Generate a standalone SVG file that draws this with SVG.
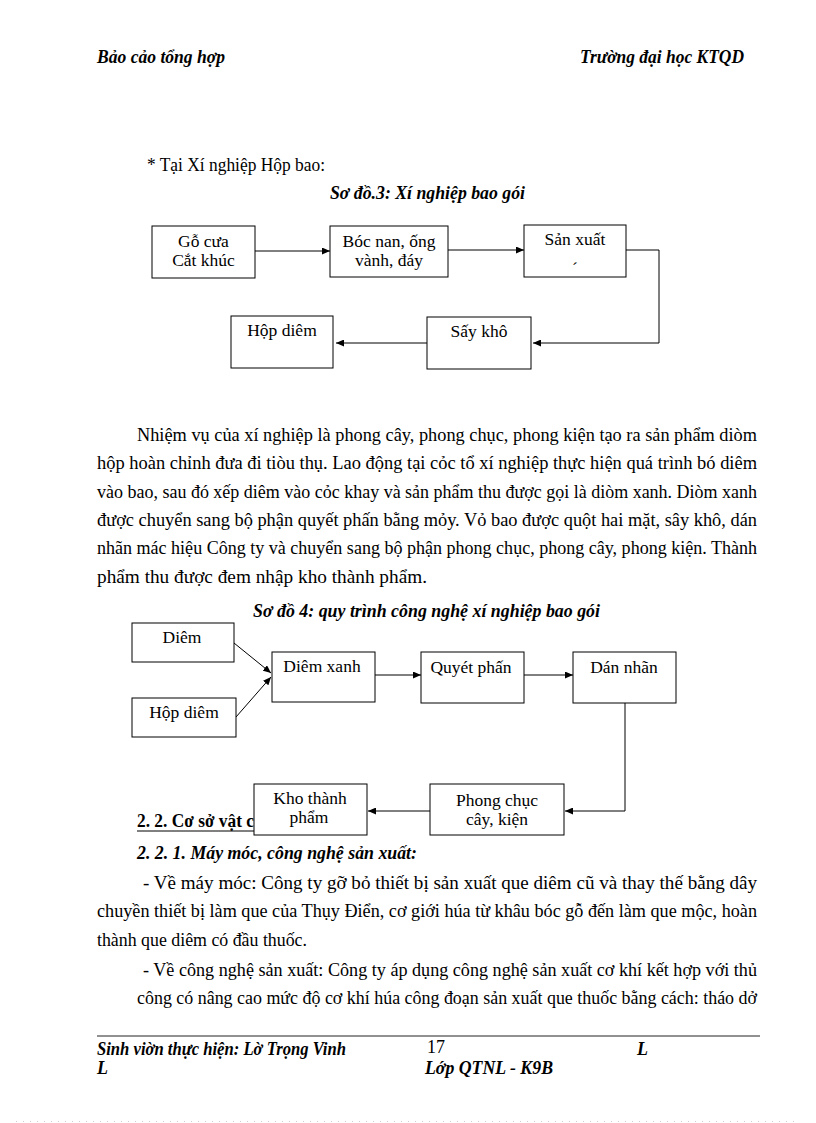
<svg xmlns="http://www.w3.org/2000/svg" width="816" height="1123" viewBox="0 0 816 1123">
<style>
.t{font-family:"Liberation Serif","Times New Roman",serif;font-size:18px;fill:#000}
.bi{font-weight:bold;font-style:italic}
.b{font-weight:bold}
.lbl{font-family:"Liberation Serif","Times New Roman",serif;font-size:17.5px;fill:#000;text-anchor:middle}
.box{fill:#fff;stroke:#000;stroke-width:1}
.conn{fill:none;stroke:#000;stroke-width:1;marker-end:url(#ah)}
</style>
<defs>
<marker id="ah" markerWidth="8" markerHeight="7" refX="8" refY="3.5" orient="auto" markerUnits="userSpaceOnUse"><path d="M0,0 L8,3.5 L0,7 z" fill="#000"/></marker>
<clipPath id="hclip"><rect x="0" y="800" width="254" height="40"/></clipPath>
</defs>
<rect width="816" height="1123" fill="#fff"/>

<g id="header">
<text class="t bi" x="97" y="63" font-size="16" textLength="128" lengthAdjust="spacingAndGlyphs">Bảo cảo tổng hợp</text>
<text class="t bi" x="580" y="63" font-size="16" textLength="164" lengthAdjust="spacingAndGlyphs">Trường đại học  KTQD</text>
</g>

<g id="intro">
<text class="t" x="147" y="171" textLength="178" lengthAdjust="spacingAndGlyphs">* Tại Xí nghiệp Hộp bao:</text>
<text class="t bi" x="330" y="199" font-size="16.5" textLength="195" lengthAdjust="spacingAndGlyphs">Sơ đồ.3: Xí nghiệp bao gói</text>
</g>

<g id="connectors1">
<path class="conn" d="M255,251 H330"/>
<path class="conn" d="M448,250 H524"/>
<path class="conn" d="M626,250 H659 V343 H533"/>
<path class="conn" d="M427,343 H336"/>
</g>

<g id="node-go-cua">
<rect class="box" x="152" y="226" width="103" height="52"/>
<text class="lbl" x="203.5" y="247">Gỗ cưa</text>
<text class="lbl" x="203.5" y="266">Cắt khúc</text>
</g>
<g id="node-boc-nan">
<rect class="box" x="330" y="226" width="118" height="51"/>
<text class="lbl" x="389" y="247">Bóc nan, ống</text>
<text class="lbl" x="389" y="266">vành,  đáy</text>
</g>
<g id="node-san-xuat">
<rect class="box" x="524" y="225" width="102" height="52"/>
<text class="lbl" x="575" y="245">Sản xuất</text>
<text class="lbl" x="575" y="274" font-size="11">ˊ</text>
</g>
<g id="node-say-kho">
<rect class="box" x="427" y="317" width="104" height="52"/>
<text class="lbl" x="479" y="337">Sấy khô</text>
</g>
<g id="node-hop-diem-1">
<rect class="box" x="231" y="316" width="102" height="52"/>
<text class="lbl" x="282" y="336">Hộp diêm</text>
</g>

<g id="paragraph">
<text class="t" x="137" y="441" textLength="620" lengthAdjust="spacingAndGlyphs">Nhiệm vụ  của xí nghiệp là phong  cây, phong chục, phong kiện tạo ra sản phẩm  diòm</text>
<text class="t" x="97" y="469" textLength="660" lengthAdjust="spacingAndGlyphs">hộp hoàn chỉnh đưa đi tiòu thụ. Lao động tại cỏc tổ xí nghiệp  thực hiện quá trình bó diêm</text>
<text class="t" x="97" y="498" textLength="660" lengthAdjust="spacingAndGlyphs">vào bao, sau đó xếp diêm vào cỏc khay  và  sản phẩm thu được gọi là diòm xanh.  Diòm xanh</text>
<text class="t" x="97" y="526" textLength="660" lengthAdjust="spacingAndGlyphs">được chuyển sang bộ phận  quyết phấn bằng mỏy.  Vỏ bao được quột hai mặt, sây khô, dán</text>
<text class="t" x="97" y="554" textLength="660" lengthAdjust="spacingAndGlyphs">nhãn mác hiệu Công ty và chuyển sang bộ phận  phong chục, phong cây, phong kiện. Thành</text>
<text class="t" x="97" y="583" textLength="330" lengthAdjust="spacingAndGlyphs">phẩm thu được đem nhập  kho thành phẩm.</text>
<text class="t bi" x="253" y="617" font-size="16.5" textLength="347" lengthAdjust="spacingAndGlyphs">Sơ đồ 4: quy trình công nghệ xí nghiệp bao gói</text>
</g>

<g id="heading-2-2">
<g clip-path="url(#hclip)">
<text class="t b" x="137" y="827" textLength="117" lengthAdjust="spacingAndGlyphs">2. 2. Cơ sở vật  c</text>
<line x1="137" y1="831" x2="254" y2="831" stroke="#000" stroke-width="1"/>
</g>
</g>

<g id="connectors2">
<path class="conn" d="M234,643 L271,673"/>
<path class="conn" d="M236,717 L271,677"/>
<path class="conn" d="M375,675 H421"/>
<path class="conn" d="M524,675 H573"/>
<path class="conn" d="M625,703 V811 H565"/>
<path class="conn" d="M430,811 H368"/>
</g>

<g id="node-diem">
<rect class="box" x="132" y="623" width="102" height="39"/>
<text class="lbl" x="182" y="643">Diêm</text>
</g>
<g id="node-hop-diem-2">
<rect class="box" x="132" y="698" width="104" height="39"/>
<text class="lbl" x="184" y="718">Hộp diêm</text>
</g>
<g id="node-diem-xanh">
<rect class="box" x="272" y="652" width="103" height="50"/>
<text class="lbl" x="322" y="672">Diêm xanh</text>
</g>
<g id="node-quyet-phan">
<rect class="box" x="421" y="652" width="103" height="51"/>
<text class="lbl" x="471" y="673">Quyét phấn</text>
</g>
<g id="node-dan-nhan">
<rect class="box" x="573" y="652" width="103" height="51"/>
<text class="lbl" x="624" y="673">Dán  nhãn</text>
</g>
<g id="node-phong-chuc">
<rect class="box" x="430" y="784" width="134" height="51"/>
<text class="lbl" x="497" y="806">Phong  chục</text>
<text class="lbl" x="497" y="825">cây, kiện</text>
</g>
<g id="node-kho">
<rect class="box" x="254" y="784" width="113" height="51"/>
<text class="lbl" x="310" y="804">Kho thành</text>
<text class="lbl" x="309" y="823">phẩm</text>
</g>

<g id="section">
<text class="t bi" x="137" y="859" font-size="17" textLength="280" lengthAdjust="spacingAndGlyphs">2. 2. 1. Máy móc, công nghệ sản xuất:</text>
<text class="t" x="143" y="889" textLength="614" lengthAdjust="spacingAndGlyphs"> - Về máy móc: Công ty gỡ bỏ thiết bị sản xuất que diêm cũ và thay thế bằng dây</text>
<text class="t" x="97" y="917" textLength="660" lengthAdjust="spacingAndGlyphs">chuyền thiết bị làm que của Thụy  Điển, cơ giới húa từ khâu  bóc gỗ đến làm que mộc, hoàn</text>
<text class="t" x="97" y="946" textLength="210" lengthAdjust="spacingAndGlyphs">thành que diêm có đầu thuốc.</text>
<text class="t" x="143" y="976" textLength="614" lengthAdjust="spacingAndGlyphs">- Về công nghệ sản xuất: Công ty áp dụng công nghệ sản xuất cơ khí kết hợp với thủ</text>
<text class="t" x="137" y="1004" textLength="620" lengthAdjust="spacingAndGlyphs">công có nâng cao mức độ cơ khí húa công đoạn sản xuất que thuốc bằng cách: tháo dở</text>
</g>

<g id="footer">
<line x1="97" y1="1036" x2="760" y2="1036" stroke="#222" stroke-width="1"/>
<text class="t bi" x="97" y="1055" font-size="16" textLength="249" lengthAdjust="spacingAndGlyphs">Sinh viờn thực hiện: Lờ Trọng Vinh</text>
<text class="t" x="427" y="1053" font-size="15">17</text>
<text class="t bi" x="637" y="1055" font-size="16">L</text>
<text class="t bi" x="97" y="1074" font-size="16">L</text>
<text class="t bi" x="425" y="1074" font-size="16" textLength="128" lengthAdjust="spacingAndGlyphs">Lớp QTNL - K9B</text>
<line x1="16" y1="1121.5" x2="800" y2="1121.5" stroke="#d8c8d8" stroke-width="1" stroke-dasharray="1 6"/>
</g>
</svg>
